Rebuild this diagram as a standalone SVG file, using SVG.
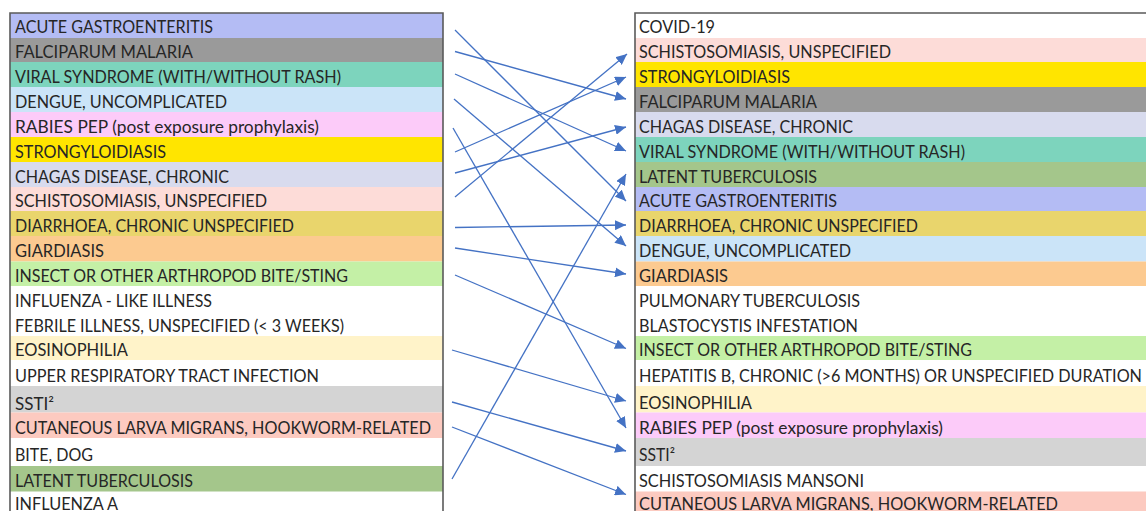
<svg xmlns="http://www.w3.org/2000/svg" width="1146" height="511" viewBox="0 0 1146 511">
<defs>
<marker id="ah" markerUnits="userSpaceOnUse" markerWidth="12" markerHeight="10" refX="11" refY="5" orient="auto">
<path d="M0,0 L11,5 L0,10 Z" fill="#4472c4"/>
</marker>
<style>
text{font-family:Lato,"Liberation Sans",sans-serif;font-size:17px;fill:#262626}
.c line{stroke:#4472c4;stroke-width:1.3;marker-end:url(#ah)}
.frame{fill:none;stroke:#5a5a5a;stroke-width:1.6}
</style>
</defs>
<rect width="1146" height="511" fill="#ffffff"/>
<g id="left-list">
<g id="L1"><rect x="10" y="13" width="433" height="25" fill="#b4bcf4"/><text x="15" y="33.3" textLength="198" lengthAdjust="spacingAndGlyphs">ACUTE GASTROENTERITIS</text></g>
<g id="L2"><rect x="10" y="38" width="433" height="24" fill="#9a9a9a"/><text x="15" y="58" textLength="178" lengthAdjust="spacingAndGlyphs">FALCIPARUM MALARIA</text></g>
<g id="L3"><rect x="10" y="62" width="433" height="25" fill="#7dd4bd"/><text x="15" y="82.5" textLength="326" lengthAdjust="spacingAndGlyphs">VIRAL SYNDROME (WITH/WITHOUT RASH)</text></g>
<g id="L4"><rect x="10" y="87" width="433" height="25" fill="#cbe4f8"/><text x="15" y="107.5" textLength="212" lengthAdjust="spacingAndGlyphs">DENGUE,  UNCOMPLICATED</text></g>
<g id="L5"><rect x="10" y="112" width="433" height="25" fill="#fccbf9"/><text x="15" y="132.5" textLength="304" lengthAdjust="spacingAndGlyphs">RABIES PEP (post exposure prophylaxis)</text></g>
<g id="L6"><rect x="10" y="137" width="433" height="25" fill="#ffe500"/><text x="15" y="157.5" textLength="151" lengthAdjust="spacingAndGlyphs">STRONGYLOIDIASIS</text></g>
<g id="L7"><rect x="10" y="162" width="433" height="25" fill="#d8dbee"/><text x="15" y="182.5" textLength="214" lengthAdjust="spacingAndGlyphs">CHAGAS DISEASE, CHRONIC</text></g>
<g id="L8"><rect x="10" y="187" width="433" height="24" fill="#fddcd8"/><text x="15" y="207" textLength="252" lengthAdjust="spacingAndGlyphs">SCHISTOSOMIASIS, UNSPECIFIED</text></g>
<g id="L9"><rect x="10" y="211" width="433" height="25" fill="#e9d56c"/><text x="15" y="231.5" textLength="279" lengthAdjust="spacingAndGlyphs">DIARRHOEA, CHRONIC UNSPECIFIED</text></g>
<g id="L10"><rect x="10" y="236" width="433" height="25.5" fill="#fcca90"/><text x="15" y="256.5" textLength="89" lengthAdjust="spacingAndGlyphs">GIARDIASIS</text></g>
<g id="L11"><rect x="10" y="261.5" width="433" height="24.5" fill="#c4f0a6"/><text x="15" y="281.5" textLength="333" lengthAdjust="spacingAndGlyphs">INSECT OR OTHER ARTHROPOD BITE/STING</text></g>
<g id="L12"><text x="15" y="306.5" textLength="197" lengthAdjust="spacingAndGlyphs">INFLUENZA - LIKE ILLNESS</text></g>
<g id="L13"><text x="15" y="331.5" textLength="329" lengthAdjust="spacingAndGlyphs">FEBRILE ILLNESS, UNSPECIFIED (&lt; 3 WEEKS)</text></g>
<g id="L14"><rect x="10" y="336" width="433" height="24" fill="#fff3c9"/><text x="15" y="356" textLength="113" lengthAdjust="spacingAndGlyphs">EOSINOPHILIA</text></g>
<g id="L15"><text x="15" y="381.5" textLength="304" lengthAdjust="spacingAndGlyphs">UPPER RESPIRATORY TRACT INFECTION</text></g>
<g id="L16"><rect x="10" y="386" width="433" height="26.5" fill="#d4d4d4"/><text x="15" y="409.5" textLength="39" lengthAdjust="spacingAndGlyphs">SSTI²</text></g>
<g id="L17"><rect x="10" y="412.5" width="433" height="25.5" fill="#fccac0"/><text x="15" y="433.5" textLength="416" lengthAdjust="spacingAndGlyphs">CUTANEOUS LARVA MIGRANS, HOOKWORM-RELATED</text></g>
<g id="L18"><text x="15" y="460.5" textLength="78" lengthAdjust="spacingAndGlyphs">BITE, DOG</text></g>
<g id="L19"><rect x="10" y="466" width="433" height="25.5" fill="#a4c68b"/><text x="15" y="486.5" textLength="178" lengthAdjust="spacingAndGlyphs">LATENT TUBERCULOSIS</text></g>
<g id="L20"><text x="15" y="510" textLength="103" lengthAdjust="spacingAndGlyphs">INFLUENZA A</text></g>
<path class="frame" d="M10,511 V13 H443 V511"/>
</g>
<g id="right-list">
<g id="R1"><text x="639" y="33.3" textLength="76" lengthAdjust="spacingAndGlyphs">COVID-19</text></g>
<g id="R2"><rect x="635" y="38" width="511" height="24" fill="#fddcd8"/><text x="639" y="58" textLength="252" lengthAdjust="spacingAndGlyphs">SCHISTOSOMIASIS, UNSPECIFIED</text></g>
<g id="R3"><rect x="635" y="62" width="511" height="25" fill="#ffe500"/><text x="639" y="82.5" textLength="151" lengthAdjust="spacingAndGlyphs">STRONGYLOIDIASIS</text></g>
<g id="R4"><rect x="635" y="87" width="511" height="25" fill="#9a9a9a"/><text x="639" y="107.5" textLength="178" lengthAdjust="spacingAndGlyphs">FALCIPARUM MALARIA</text></g>
<g id="R5"><rect x="635" y="112" width="511" height="25" fill="#d8dbee"/><text x="639" y="132.5" textLength="214" lengthAdjust="spacingAndGlyphs">CHAGAS DISEASE, CHRONIC</text></g>
<g id="R6"><rect x="635" y="137" width="511" height="25" fill="#7dd4bd"/><text x="639" y="157.5" textLength="326" lengthAdjust="spacingAndGlyphs">VIRAL SYNDROME (WITH/WITHOUT RASH)</text></g>
<g id="R7"><rect x="635" y="162" width="511" height="25" fill="#a4c68b"/><text x="639" y="182.5" textLength="178" lengthAdjust="spacingAndGlyphs">LATENT TUBERCULOSIS</text></g>
<g id="R8"><rect x="635" y="187" width="511" height="24" fill="#b4bcf4"/><text x="639" y="207" textLength="198" lengthAdjust="spacingAndGlyphs">ACUTE GASTROENTERITIS</text></g>
<g id="R9"><rect x="635" y="211" width="511" height="25" fill="#e9d56c"/><text x="639" y="231.5" textLength="279" lengthAdjust="spacingAndGlyphs">DIARRHOEA, CHRONIC UNSPECIFIED</text></g>
<g id="R10"><rect x="635" y="236" width="511" height="25.5" fill="#cbe4f8"/><text x="639" y="256.5" textLength="212" lengthAdjust="spacingAndGlyphs">DENGUE,  UNCOMPLICATED</text></g>
<g id="R11"><rect x="635" y="261.5" width="511" height="24.5" fill="#fcca90"/><text x="639" y="281.5" textLength="89" lengthAdjust="spacingAndGlyphs">GIARDIASIS</text></g>
<g id="R12"><text x="639" y="306.5" textLength="221" lengthAdjust="spacingAndGlyphs">PULMONARY TUBERCULOSIS</text></g>
<g id="R13"><text x="639" y="331.5" textLength="219" lengthAdjust="spacingAndGlyphs">BLASTOCYSTIS INFESTATION</text></g>
<g id="R14"><rect x="635" y="336" width="511" height="24" fill="#c4f0a6"/><text x="639" y="356" textLength="333" lengthAdjust="spacingAndGlyphs">INSECT OR OTHER ARTHROPOD BITE/STING</text></g>
<g id="R15"><text x="639" y="381.5" textLength="503" lengthAdjust="spacingAndGlyphs">HEPATITIS B, CHRONIC (&gt;6 MONTHS) OR UNSPECIFIED DURATION</text></g>
<g id="R16"><rect x="635" y="386" width="511" height="26.5" fill="#fff3c9"/><text x="639" y="408.5" textLength="113" lengthAdjust="spacingAndGlyphs">EOSINOPHILIA</text></g>
<g id="R17"><rect x="635" y="412.5" width="511" height="25.5" fill="#fccbf9"/><text x="639" y="433.5" textLength="304" lengthAdjust="spacingAndGlyphs">RABIES PEP (post exposure prophylaxis)</text></g>
<g id="R18"><rect x="635" y="438" width="511" height="28" fill="#d4d4d4"/><text x="639" y="460.5" textLength="36" lengthAdjust="spacingAndGlyphs">SSTI²</text></g>
<g id="R19"><text x="639" y="486.5" textLength="225" lengthAdjust="spacingAndGlyphs">SCHISTOSOMIASIS MANSONI</text></g>
<g id="R20"><rect x="635" y="491.5" width="511" height="20" fill="#fccac0"/><text x="639" y="510" textLength="419" lengthAdjust="spacingAndGlyphs">CUTANEOUS LARVA MIGRANS, HOOKWORM-RELATED</text></g>
<path class="frame" d="M635,511 V13 H1146"/>
</g>
<g id="connectors" class="c">
<line x1="455" y1="30" x2="626" y2="201"/>
<line x1="455" y1="51.5" x2="626" y2="99"/>
<line x1="455" y1="74" x2="626" y2="151"/>
<line x1="454" y1="99" x2="626" y2="246"/>
<line x1="453" y1="128" x2="626" y2="428"/>
<line x1="455" y1="152" x2="626" y2="77"/>
<line x1="455" y1="173" x2="626" y2="127"/>
<line x1="455" y1="197" x2="627" y2="54"/>
<line x1="455" y1="227.5" x2="626" y2="225"/>
<line x1="455" y1="248" x2="626" y2="274"/>
<line x1="455" y1="275" x2="626" y2="348.5"/>
<line x1="452" y1="350" x2="626" y2="401"/>
<line x1="452" y1="402" x2="626" y2="451"/>
<line x1="452" y1="427" x2="626" y2="494.5"/>
<line x1="452" y1="479" x2="626" y2="174"/>
</g>
</svg>
